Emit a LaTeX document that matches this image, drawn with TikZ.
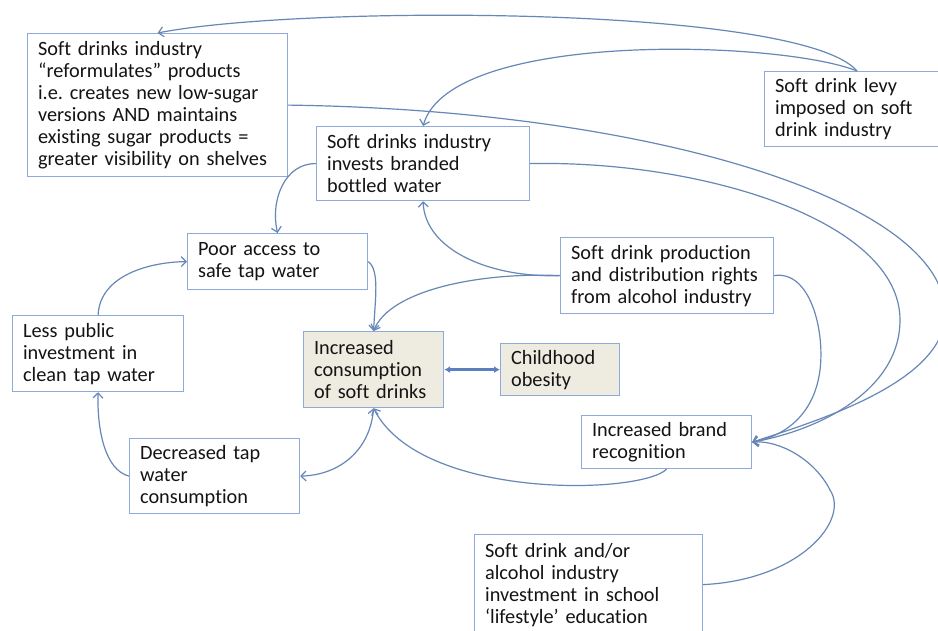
\documentclass[tikz,border=0pt]{standalone}
\usepackage{fontspec}
\setmainfont{Carlito}[Ligatures=NoCommon]
\usetikzlibrary{arrows.meta}
\definecolor{bordc}{HTML}{8EAADB}
\definecolor{linec}{HTML}{6787B7}
\definecolor{thickc}{HTML}{5B7FBF}
\definecolor{fillc}{HTML}{EEECE1}
\definecolor{txtc}{HTML}{141414}
\frenchspacing
\begin{document}
\begin{tikzpicture}[x=1pt,y=-1pt,
  box/.style={draw=bordc, line width=1.2pt, anchor=north west, inner xsep=10pt,
    inner ysep=0pt, align=left, font=\fontsize{20.3}{22}\selectfont, text=txtc},
  conn/.style={draw=linec, line width=1.2pt, -{Straight Barb[length=5pt,width=10pt]}},
  bconn/.style={draw=linec, line width=1.2pt, {Straight Barb[length=5pt,width=10pt]}-{Straight Barb[length=5pt,width=10pt]}},
  thick2/.style={draw=thickc, line width=2.4pt, {Latex[length=6pt,width=7pt]}-{Latex[length=6pt,width=7pt]}}]
\clip (0,0) rectangle (938,630);
\fill[white] (0,0) rectangle (938,630);

\node[box, text width=239pt, minimum width=260pt, minimum height=143pt] (refo) at (27,33)
  {Soft drinks industry\\“reformulates” products\\i.e. creates new low-sugar\\versions AND maintains\\existing sugar products =\\greater visibility on shelves};
\node[box, text width=164pt, minimum width=185pt, minimum height=75pt] (levy) at (764,71)
  {Soft drink levy\\imposed on soft\\drink industry};
\node[box, text width=192pt, minimum width=213pt, minimum height=74pt] (bott) at (316,126)
  {Soft drinks industry\\invests branded\\bottled water};
\node[box, text width=159pt, minimum width=180pt, minimum height=56pt] (poor) at (187,233)
  {Poor access to\\safe tap water};
\node[box, text width=192pt, minimum width=213pt, minimum height=76pt] (prod) at (560,237)
  {Soft drink production\\and distribution rights\\from alcohol industry};
\node[box, text width=150pt, minimum width=171pt, minimum height=76pt] (less) at (12,315)
  {Less public\\investment in\\clean tap water};
\node[box, fill=fillc, text width=119pt, minimum width=140pt, minimum height=76pt] (cons) at (303,331)
  {Increased\\consumption\\of soft drinks};
\node[box, fill=fillc, text width=98pt, minimum width=119pt, minimum height=52pt] (child) at (500,343)
  {Childhood\\obesity};
\node[box, text width=149pt, minimum width=170pt, minimum height=75pt] (decr) at (129,438)
  {Decreased tap\\water\\consumption};
\node[box, text width=149pt, minimum width=170pt, minimum height=53pt] (brand) at (581,415)
  {Increased brand\\recognition};
\node[box, text width=207pt, minimum width=228pt, minimum height=100pt] (school) at (474,534)
  {Soft drink and/or\\alcohol industry\\investment in school\\‘lifestyle’ education};

% connectors
\draw[conn] (levy.north) .. controls (800,5) and (300,5) .. (refo.north);
\draw[conn] (levy.north) .. controls (780,40) and (450,30) .. (bott.north);
\draw[conn] (refo.east) .. controls (650,110) and (940,200) .. (945,310)
  .. controls (950,380) and (820,420) .. (brand.east);
\draw[conn] (bott.east) .. controls (700,160) and (900,220) .. (900,320)
  .. controls (900,390) and (820,430) .. (brand.east);
\draw[conn] (prod.east) .. controls (810,270) and (825,330) .. (820,370)
  .. controls (815,410) and (790,435) .. (brand.east);
\draw[conn] (school.east) .. controls (800,580) and (850,520) .. (830,490)
  .. controls (815,460) and (780,440) .. (brand.east);
\draw[conn] (prod.west) .. controls (490,278) and (425,250) .. (bott.south);
\draw[conn] (prod.west) .. controls (480,272) and (390,290) .. (cons.north);
\draw[conn] (bott.west) .. controls (285,163) and (270,200) .. (poor.north);
\draw[conn] (poor.east) .. controls (380,270) and (375,300) .. (cons.north);
\draw[conn] (less.north) .. controls (100,275) and (150,262) .. (poor.west);
\draw[conn] (decr.west) .. controls (105,470) and (97,430) .. (less.south);
\draw[bconn] (cons.south) .. controls (370,450) and (340,475) .. (decr.east);
\draw[conn] (brand.south) .. controls (640,495) and (420,500) .. (cons.south);
\draw[thick2] (cons.east) -- (child.west);
\end{tikzpicture}
\end{document}
